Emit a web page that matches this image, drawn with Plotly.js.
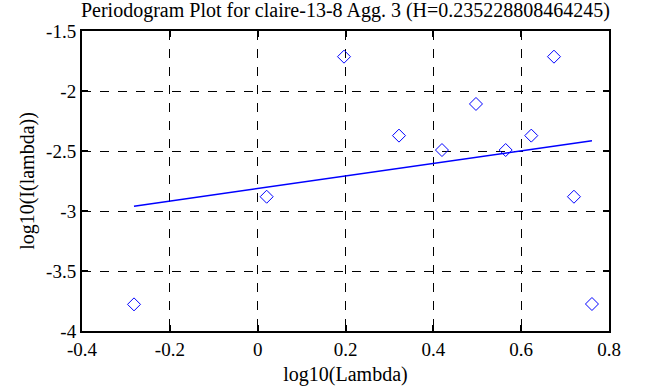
<!DOCTYPE html>
<html>
<head>
<meta charset="utf-8">
<script src="https://cdn.plot.ly/plotly-3.0.1.min.js"></script>
<style>html,body{margin:0;padding:0;background:#fff;}#chart{width:658px;height:387px;}</style>
</head>
<body>
<div id="chart"></div>
<script>
const logLambda = [-0.2816, 0.0205, 0.1966, 0.3218, 0.4197, 0.4971, 0.5647, 0.6230, 0.6747, 0.7202, 0.7612];
const logI = [-3.778, -2.881, -1.714, -2.372, -2.492, -2.108, -2.492, -2.372, -1.714, -2.881, -3.775];
const fitX = [-0.2816, 0.7612];
const fitY = [-2.960, -2.414];
const xTicks = [-0.4, -0.2, 0, 0.2, 0.4, 0.6, 0.8];
const xTickText = ['-0.4', '-0.2', '0', '0.2', '0.4', '0.6', '0.8'];
const yTicks = [-4, -3.5, -3, -2.5, -2, -1.5];
const yTickText = ['-4', '-3.5', '-3', '-2.5', '-2', '-1.5'];

const FAM = 'Liberation Serif';
function mkFont(size) { return {family: FAM, size: size, color: '#000000'}; }

const traces = [
  {x: logLambda, y: logI, mode: 'markers', type: 'scatter',
   marker: {symbol: 'diamond-open', size: 10, color: '#0000ff', line: {width: 1, color: '#0000ff'}}},
  {x: fitX, y: fitY, mode: 'lines', type: 'scatter', line: {color: '#0000ff', width: 1.5}}
];

function axis(extra) {
  return Object.assign({
    showline: true, linecolor: '#000', linewidth: 2, mirror: 'ticks',
    ticks: 'inside', ticklen: 6, tickwidth: 2, tickcolor: '#000',
    showgrid: true, gridcolor: '#000', gridwidth: 1, griddash: 'dash',
    zeroline: false, tickmode: 'array', tickfont: mkFont(19)
  }, extra);
}

const layout = {
  width: 658, height: 387,
  margin: {l: 82, r: 49, t: 31, b: 56},
  paper_bgcolor: '#fff', plot_bgcolor: '#fff',
  showlegend: false,
  font: mkFont(19),
  title: {text: 'Periodogram Plot for claire-13-8 Agg. 3 (H=0.235228808464245)', font: mkFont(20), x: 0.525, xanchor: 'center', y: 0.975, yanchor: 'middle'},
  xaxis: axis({range: [-0.4, 0.8], tickvals: xTicks, ticktext: xTickText,
    title: {text: 'log10(Lambda)', font: mkFont(20), standoff: 8}}),
  yaxis: axis({range: [-4, -1.5], tickvals: yTicks, ticktext: yTickText,
    title: {text: 'log10(I(lambda))', font: mkFont(20), standoff: 6}})
};

Plotly.newPlot('chart', traces, layout, {staticPlot: true, displayModeBar: false});
</script>
</body>
</html>
